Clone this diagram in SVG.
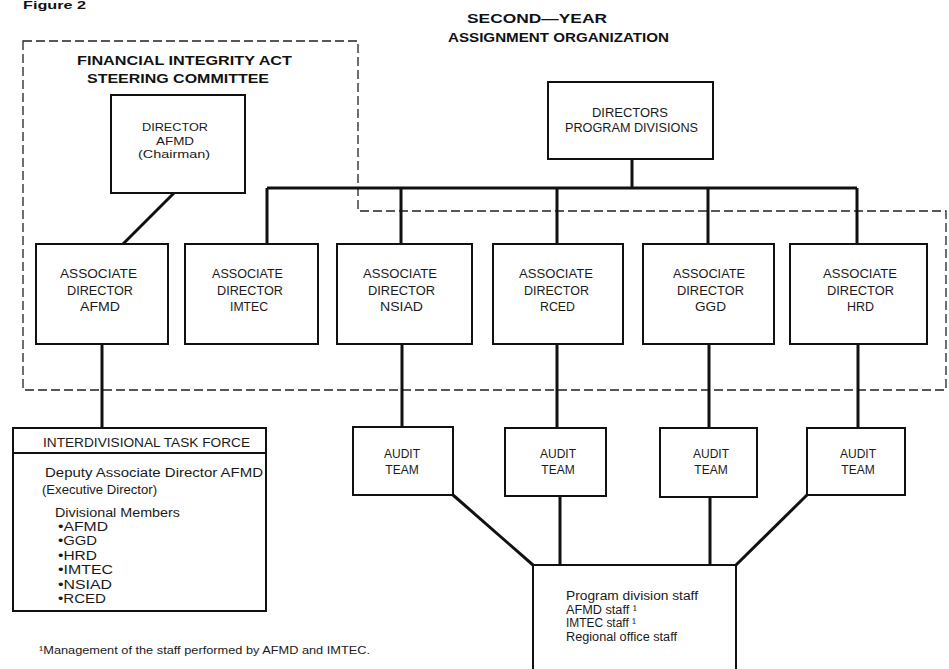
<svg xmlns="http://www.w3.org/2000/svg" width="949" height="669" viewBox="0 0 949 669">
<style>
.box{fill:#fff;stroke:#111;stroke-width:2}
.conn{stroke:#111;stroke-width:3;fill:none}
.dash{fill:none;stroke:#222;stroke-width:1.3;stroke-dasharray:9 4}
.t{font-family:"Liberation Sans",Arial,sans-serif;fill:#1a1a1a}
.b{font-weight:bold;fill:#111}
.f10{font-size:10.5px}
.f11{font-size:11px}
.f12{font-size:12px}
.f125{font-size:12.5px}
.m{text-anchor:middle}
</style>
<rect width="949" height="669" fill="#fff"/>
<g id="titles">
<text class="t b f10" x="23" y="9" textLength="63" lengthAdjust="spacingAndGlyphs">Figure 2</text>
<text class="t b f125" x="467" y="23" textLength="140" lengthAdjust="spacingAndGlyphs">SECOND—YEAR</text>
<text class="t b f125" x="448" y="42" textLength="221" lengthAdjust="spacingAndGlyphs">ASSIGNMENT ORGANIZATION</text>
</g>
<g id="steering-committee-region">
<path class="dash" d="M23,41 H358 V211 H946 V390 H23 Z"/>
<text class="t b f125" x="77" y="65" textLength="215" lengthAdjust="spacingAndGlyphs">FINANCIAL INTEGRITY ACT</text>
<text class="t b f125" x="87" y="83" textLength="182" lengthAdjust="spacingAndGlyphs">STEERING COMMITTEE</text>
</g>
<g id="connectors">
<path class="conn" d="M174,193 L123,244"/>
<path class="conn" d="M632,159 V188"/>
<path class="conn" d="M267,188 H857"/>
<path class="conn" d="M267,188 V244 M401,188 V244 M557,188 V244 M708,188 V244 M857,188 V244"/>
<path class="conn" d="M102,344 V428"/>
<path class="conn" d="M402,344 V427 M557,344 V428 M709,344 V428 M858,344 V428"/>
<path class="conn" d="M453,495 L533,565"/>
<path class="conn" d="M560,496 V565 M710,497 V565"/>
<path class="conn" d="M807,495 L736,565"/>
</g>
<g id="director-afmd">
<rect class="box" x="111" y="95" width="134" height="98"/>
<text class="t f11" x="142" y="131" textLength="66" lengthAdjust="spacingAndGlyphs">DIRECTOR</text>
<text class="t f11" x="156" y="145" textLength="38" lengthAdjust="spacingAndGlyphs">AFMD</text>
<text class="t f11" x="138" y="158" textLength="72" lengthAdjust="spacingAndGlyphs">(Chairman)</text>
</g>
<g id="directors-program-divisions">
<rect class="box" x="548" y="82" width="165" height="77"/>
<text class="t f12" x="592" y="117" textLength="76" lengthAdjust="spacingAndGlyphs">DIRECTORS</text>
<text class="t f12" x="565" y="132" textLength="133" lengthAdjust="spacingAndGlyphs">PROGRAM DIVISIONS</text>
</g>
<g id="assoc-afmd">
<rect class="box" x="36" y="244" width="132" height="100"/>
<text class="t f125" x="60" y="278" textLength="77" lengthAdjust="spacingAndGlyphs">ASSOCIATE</text>
<text class="t f125" x="67" y="294.5" textLength="66" lengthAdjust="spacingAndGlyphs">DIRECTOR</text>
<text class="t f125" x="80" y="311" textLength="40" lengthAdjust="spacingAndGlyphs">AFMD</text>
</g>
<g id="assoc-imtec">
<rect class="box" x="185" y="244" width="133" height="100"/>
<text class="t f125" x="212" y="278" textLength="71" lengthAdjust="spacingAndGlyphs">ASSOCIATE</text>
<text class="t f125" x="217" y="294.5" textLength="66" lengthAdjust="spacingAndGlyphs">DIRECTOR</text>
<text class="t f125" x="230" y="311" textLength="38" lengthAdjust="spacingAndGlyphs">IMTEC</text>
</g>
<g id="assoc-nsiad">
<rect class="box" x="337" y="244" width="135" height="100"/>
<text class="t f125" x="363" y="278" textLength="74" lengthAdjust="spacingAndGlyphs">ASSOCIATE</text>
<text class="t f125" x="368" y="294.5" textLength="67" lengthAdjust="spacingAndGlyphs">DIRECTOR</text>
<text class="t f125" x="380" y="311" textLength="43" lengthAdjust="spacingAndGlyphs">NSIAD</text>
</g>
<g id="assoc-rced">
<rect class="box" x="493" y="244" width="130" height="100"/>
<text class="t f125" x="519" y="278" textLength="74" lengthAdjust="spacingAndGlyphs">ASSOCIATE</text>
<text class="t f125" x="524" y="294.5" textLength="65" lengthAdjust="spacingAndGlyphs">DIRECTOR</text>
<text class="t f125" x="540" y="311" textLength="35" lengthAdjust="spacingAndGlyphs">RCED</text>
</g>
<g id="assoc-ggd">
<rect class="box" x="643" y="244" width="131" height="100"/>
<text class="t f125" x="673" y="278" textLength="72" lengthAdjust="spacingAndGlyphs">ASSOCIATE</text>
<text class="t f125" x="677" y="294.5" textLength="67" lengthAdjust="spacingAndGlyphs">DIRECTOR</text>
<text class="t f125" x="695" y="311" textLength="31" lengthAdjust="spacingAndGlyphs">GGD</text>
</g>
<g id="assoc-hrd">
<rect class="box" x="790" y="244" width="137" height="100"/>
<text class="t f125" x="823" y="278" textLength="74" lengthAdjust="spacingAndGlyphs">ASSOCIATE</text>
<text class="t f125" x="827" y="294.5" textLength="67" lengthAdjust="spacingAndGlyphs">DIRECTOR</text>
<text class="t f125" x="847" y="311" textLength="27" lengthAdjust="spacingAndGlyphs">HRD</text>
</g>
<g id="task-force">
<rect class="box" x="13" y="428" width="253" height="183"/>
<line x1="13" y1="453" x2="266" y2="453" stroke="#111" stroke-width="2"/>
<text class="t f12" x="43" y="447" textLength="207" lengthAdjust="spacingAndGlyphs">INTERDIVISIONAL TASK FORCE</text>
<text class="t f12" x="45" y="477" textLength="218" lengthAdjust="spacingAndGlyphs">Deputy Associate Director AFMD</text>
<text class="t f12" x="42" y="494" textLength="115" lengthAdjust="spacingAndGlyphs">(Executive Director)</text>
<text class="t f12" x="55" y="517" textLength="125" lengthAdjust="spacingAndGlyphs">Divisional Members</text>
<text class="t f12" x="58" y="531" textLength="50" lengthAdjust="spacingAndGlyphs">•AFMD</text>
<text class="t f12" x="58" y="545.4" textLength="39" lengthAdjust="spacingAndGlyphs">•GGD</text>
<text class="t f12" x="58" y="559.8" textLength="39" lengthAdjust="spacingAndGlyphs">•HRD</text>
<text class="t f12" x="58" y="574.2" textLength="55" lengthAdjust="spacingAndGlyphs">•IMTEC</text>
<text class="t f12" x="58" y="588.6" textLength="54" lengthAdjust="spacingAndGlyphs">•NSIAD</text>
<text class="t f12" x="58" y="603" textLength="48" lengthAdjust="spacingAndGlyphs">•RCED</text>
</g>
<g id="audit-team-1">
<rect class="box" x="353" y="427" width="100" height="68"/>
<text class="t f12 m" x="402" y="458">AUDIT</text>
<text class="t f12 m" x="402" y="474">TEAM</text>
</g>
<g id="audit-team-2">
<rect class="box" x="505" y="428" width="101" height="68"/>
<text class="t f12 m" x="558" y="458">AUDIT</text>
<text class="t f12 m" x="558" y="474">TEAM</text>
</g>
<g id="audit-team-3">
<rect class="box" x="660" y="428" width="97" height="69"/>
<text class="t f12 m" x="711" y="458">AUDIT</text>
<text class="t f12 m" x="711" y="474">TEAM</text>
</g>
<g id="audit-team-4">
<rect class="box" x="807" y="428" width="98" height="67"/>
<text class="t f12 m" x="858" y="458">AUDIT</text>
<text class="t f12 m" x="858" y="474">TEAM</text>
</g>
<g id="staff-pool">
<rect class="box" x="533" y="565" width="203" height="112"/>
<text class="t f12" x="566" y="600" textLength="132" lengthAdjust="spacingAndGlyphs">Program division staff</text>
<text class="t f12" x="566" y="613.5" textLength="71" lengthAdjust="spacingAndGlyphs">AFMD staff ¹</text>
<text class="t f12" x="566" y="627" textLength="70" lengthAdjust="spacingAndGlyphs">IMTEC staff ¹</text>
<text class="t f12" x="566" y="640.5" textLength="111" lengthAdjust="spacingAndGlyphs">Regional office staff</text>
</g>
<g id="footnote">
<text class="t f11" x="39" y="654" textLength="331" lengthAdjust="spacingAndGlyphs">¹Management of the staff performed by AFMD and IMTEC.</text>
</g>
</svg>
